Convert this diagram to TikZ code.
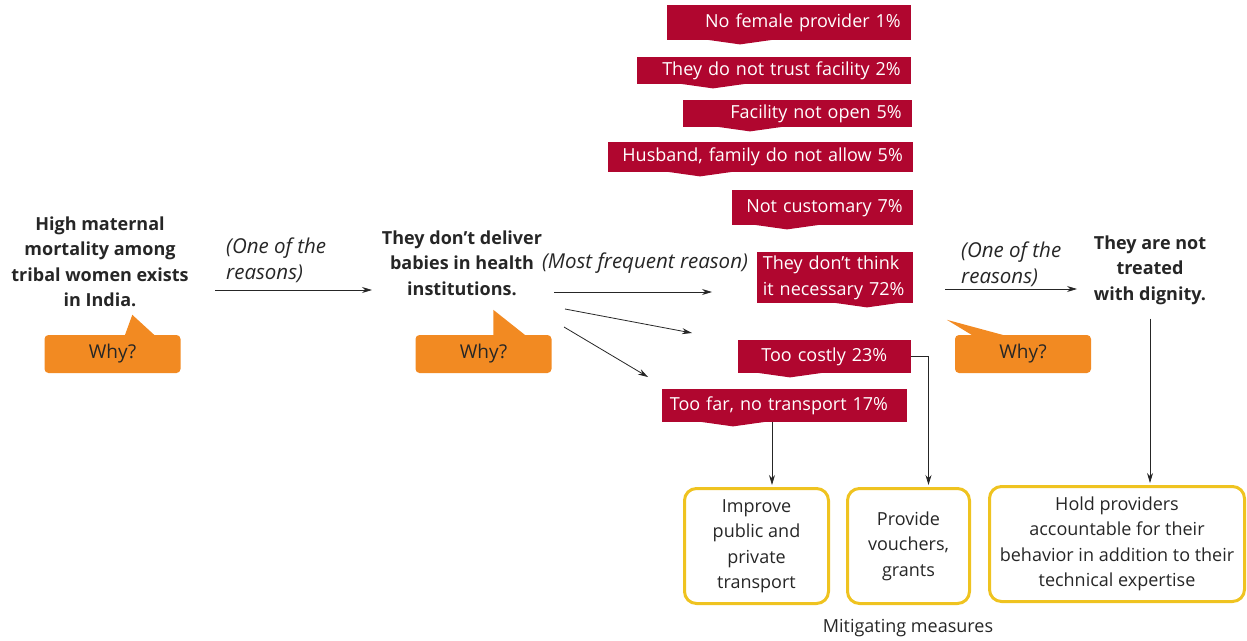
\documentclass[tikz,border=0pt]{standalone}
\usepackage{fontspec}
\setmainfont{Open Sans}
\usetikzlibrary{arrows.meta}
\definecolor{reasonred}{HTML}{B0062F}
\definecolor{whyorange}{HTML}{F28A22}
\definecolor{measuregold}{HTML}{EFC320}
\definecolor{inkgray}{HTML}{262626}
\tikzset{
  reason/.style={fill=reasonred, text=white, anchor=north east, inner xsep=10pt, inner ysep=0pt, align=right},
  why/.style={fill=whyorange, rounded corners=4pt, minimum width=136pt, minimum height=38pt, inner sep=0pt, text=inkgray, font=\fontsize{19}{25.5}\selectfont},
  claim/.style={font=\bfseries, align=center, text=inkgray},
  note/.style={font=\fontsize{20.5}{26}\selectfont\itshape, align=left, text=inkgray},
  measure/.style={draw=measuregold, line width=3pt, rounded corners=12pt, align=center, text=inkgray, minimum height=115pt},
  arr/.style={-{Stealth[length=10pt,width=6pt]}, line width=0.8pt, draw=inkgray},
}
\begin{document}
\fontsize{18}{25.5}\selectfont
\begin{tikzpicture}[x=1pt,y=-1pt]
\useasboundingbox (0,0) rectangle (1247,640);
% reasons for not delivering in institutions
\node[reason, text width=224pt, minimum height=35pt] (nofemale) at (911,5) {No female provider 1\%};
\node[reason, text width=254pt, minimum height=27pt] (notrust) at (911,57) {They do not trust facility 2\%};
\node[reason, text width=209pt, minimum height=27pt] (notopen) at (912,100) {Facility not open 5\%};
\node[reason, text width=285pt, minimum height=30pt] (husband) at (913,142) {Husband, family do not allow 5\%};
\node[reason, text width=161pt, minimum height=35pt] (custom) at (913,190) {Not customary 7\%};
\node[reason, text width=144pt, inner xsep=6pt, minimum height=51pt, align=left] (notneed) at (913,252) {They don’t think\\it necessary 72\%};
\node[reason, text width=153pt, minimum height=33pt, align=center] (costly) at (911,340) {Too costly 23\%};
\node[reason, text width=229pt, inner xsep=8pt, minimum height=33pt, align=left] (toofar) at (907,389) {Too far, no transport 17\%};
\foreach \nm/\px in {nofemale/740, notrust/713, notopen/750, husband/700, custom/787, notneed/867, costly/790, toofar/733}
  \fill[reasonred] ([xshift=-32pt,yshift=0.5pt]\nm.south -| \px,0) -- ([yshift=-4pt]\nm.south -| \px,0) -- ([xshift=32pt,yshift=0.5pt]\nm.south -| \px,0) -- cycle;

% statements
\node[claim] (maternal) at (100,262) {High maternal\\mortality among\\tribal women exists\\in India.};
\node[claim] (deliver) at (462,263) {They don’t deliver\\babies in health\\institutions.};
\node[claim] (dignity) at (1150,270) {They are not\\treated\\with dignity.};
\node[note, anchor=west] (reasonsA) at (220,260) {(One of the\\reasons)};
\node[note] (frequent) at (645,263) {(Most frequent reason)};
\node[note, anchor=west] (reasonsB) at (955,264) {(One of the\\reasons)};

% why bubbles
\node[why] (whyA) at (112.5,354) {Why?};
\node[why] (whyB) at (483.5,354) {Why?};
\node[why] (whyC) at (1023,354) {Why?};
\fill[whyorange] ([xshift=80pt,yshift=-2pt]whyA.north west) -- ([xshift=88pt,yshift=20pt]whyA.north west) -- ([xshift=112pt,yshift=-2pt]whyA.north west) -- cycle;
\fill[whyorange] ([xshift=78pt,yshift=-2pt]whyB.north west) -- ([xshift=78pt,yshift=25pt]whyB.north west) -- ([xshift=112pt,yshift=-2pt]whyB.north west) -- cycle;
\fill[whyorange] ([xshift=20pt,yshift=-2pt]whyC.north west) -- ([xshift=-8pt,yshift=15pt]whyC.north west) -- ([xshift=55pt,yshift=-2pt]whyC.north west) -- cycle;

% mitigating measures
\node[measure, minimum width=144pt] (transport) at (756.5,546) {Improve\\public and\\private\\transport};
\node[measure, minimum width=122pt] (vouchers) at (908.5,546) {Provide\\vouchers,\\grants};
\node[measure, minimum width=255pt, inner xsep=2pt] (account) at (1117,544) {Hold providers\\accountable for their\\behavior in addition to their\\technical expertise};
\node[text=inkgray] (mitigating) at (908,628) {Mitigating measures};

% connectors
\coordinate (mainS) at (215,290);
\coordinate (mainE) at (372,290);
\coordinate (freqS) at (554,292);
\coordinate (freqE) at (712,292);
\coordinate (midS) at (565,309);
\coordinate (midE) at (692,333);
\coordinate (lowS) at (564,327);
\coordinate (lowE) at (648,377);
\coordinate (dignS) at (945,289);
\coordinate (dignE) at (1077,289);
\draw[arr] (mainS) -- (mainE);
\draw[arr] (freqS) -- (freqE);
\draw[arr] (midS) -- (midE);
\draw[arr] (lowS) -- (lowE);
\draw[arr] (dignS) -- (dignE);
\draw[arr, shorten >=2pt] (toofar.south -| 772,0) -- (transport.north -| 772,0);
\draw[arr, shorten >=2pt] (costly.east) -| ([xshift=20pt]vouchers.north);
\draw[arr, shorten <=8pt, shorten >=2pt] (dignity.south) -- (dignity.south |- account.north);
\end{tikzpicture}
\end{document}
